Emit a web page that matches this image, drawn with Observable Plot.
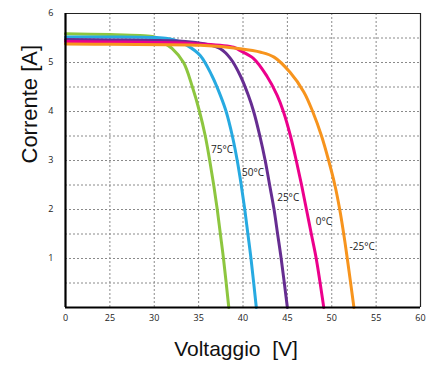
<!DOCTYPE html>
<html><head><meta charset="utf-8">
<script src="https://cdn.jsdelivr.net/npm/d3@7"></script>
<script src="https://cdn.jsdelivr.net/npm/@observablehq/plot@0.6"></script>
<style>
body{margin:0;background:#fff;}
svg text{white-space:pre;}
</style></head><body><div id="chart"></div>
<script>
// Tick labels (the x axis is broken: 0, then 25..60 in steps of 5, equally spaced)
const xTickLabels = [0, 25, 30, 35, 40, 45, 50, 55, 60];
const yTickValues = [1, 2, 3, 4, 5, 6];
const yGridValues = [0.5, 1, 1.5, 2, 2.5, 3, 3.5, 4, 4.5, 5, 5.5];

const seriesNames = ["75°C", "50°C", "25°C", "0°C", "-25°C"];
const seriesColors = ["#8dc63f", "#27aae1", "#662d91", "#ec008c", "#f7941d"];

// Voltage [V] / Current [A]
const volts75 = [0, 25, 28.4, 30, 31.5, 32.0, 33.3, 34.3, 35.1, 35.75, 36.25, 36.7, 37.1, 37.45, 37.8, 38.4];
const amps75  = [5.585, 5.57, 5.55, 5.52, 5.35, 5.29, 5.0, 4.5, 4.0, 3.5, 3.0, 2.5, 2.0, 1.5, 1.0, 0];

const volts50 = [0, 25, 30, 31.5, 32.6, 33.7, 35.2, 36.5, 37.45, 38.1, 38.8, 39.35, 39.8, 40.2, 40.55, 40.9, 41.5];
const amps50  = [5.52, 5.52, 5.51, 5.49, 5.44, 5.35, 5.14, 4.73, 4.33, 4.0, 3.5, 3.0, 2.5, 2.0, 1.5, 1.0, 0];

const volts25 = [0, 25, 30, 34.1, 36.0, 37.45, 38.6, 39.7, 40.6, 41.2, 41.9, 42.5, 43.0, 43.5, 43.9, 44.3, 45.0];
const amps25  = [5.47, 5.46, 5.45, 5.42, 5.37, 5.28, 5.08, 4.73, 4.33, 4.0, 3.5, 3.0, 2.5, 2.0, 1.5, 1.0, 0];

const volts0 = [0, 25, 30, 35, 38.95, 39.7, 41.2, 42.7, 43.85, 44.55, 45.35, 46.0, 46.6, 47.15, 47.7, 48.25, 49.1];
const amps0  = [5.43, 5.42, 5.41, 5.38, 5.31, 5.24, 5.08, 4.72, 4.33, 4.0, 3.5, 3.0, 2.5, 2.0, 1.5, 1.0, 0];

const voltsM25 = [0, 25, 35.2, 39.7, 42.0, 43.5, 45.3, 46.85, 47.85, 48.85, 49.65, 50.35, 50.9, 51.35, 51.75, 52.5];
const ampsM25  = [5.38, 5.37, 5.35, 5.28, 5.21, 5.11, 4.80, 4.4, 4.0, 3.5, 3.0, 2.5, 2.0, 1.5, 1.0, 0];

// Curve labels (anchor at left / vertical centre)
const labelVolts = [36.4, 39.9, 43.85, 48.2, 52.0];
const labelAmps  = [3.22, 2.74, 2.23, 1.74, 1.24];

// Position along the broken axis: 0..25 spans one interval, then 5 V per interval
const vx = v => v <= 25 ? v / 25 : 1 + (v - 25) / 5;

const seriesV = [volts75, volts50, volts25, volts0, voltsM25];
const seriesI = [amps75, amps50, amps25, amps0, ampsM25];
const rows = seriesNames.flatMap((s, k) => seriesV[k].map((v, j) => ({s, v, i: seriesI[k][j]})));
const labels = seriesNames.map((s, k) => ({s, v: labelVolts[k], i: labelAmps[k]}));

const xTicks = xTickLabels.map(vx);
const fontTicks = "'Open Sans', sans-serif";
const fontTitles = "'Liberation Sans', Arial, sans-serif";

const chart = Plot.plot({
  width: 438,
  height: 368,
  marginLeft: 65,
  marginRight: 18,
  marginTop: 13,
  marginBottom: 61,
  style: {fontFamily: fontTicks, background: "#fff", overflow: "visible"},
  x: {domain: [0, 8]},
  y: {domain: [0, 6]},
  color: {domain: seriesNames, range: seriesColors},
  marks: [
    Plot.gridX(xTicks.slice(1, -1), {stroke: "#8a8a8a", strokeOpacity: 1, strokeDasharray: "2,2", strokeWidth: 1}),
    Plot.gridY(yGridValues, {stroke: "#8a8a8a", strokeOpacity: 1, strokeDasharray: "2,2", strokeWidth: 1}),
    Plot.line(rows, {x: d => vx(d.v), y: "i", z: "s", stroke: "s", strokeWidth: 3, curve: "catmull-rom"}),
    Plot.text(labels, {x: d => vx(d.v), y: "i", text: "s", textAnchor: "start", fontSize: 10, fill: "#222", fontFamily: fontTicks}),
    Plot.ruleX([8], {stroke: "#222", strokeWidth: 1.2}),
    Plot.ruleY([6], {stroke: "#222", strokeWidth: 1.2}),
    Plot.ruleX([0], {stroke: "#000", strokeWidth: 2.2}),
    Plot.ruleY([0], {stroke: "#000", strokeWidth: 2.2}),
    Plot.axisX(xTicks, {tickSize: 0, tickPadding: 7, fontSize: 9, tickFormat: d => String(xTickLabels[Math.round(d)]), label: null, fill: "#222"}),
    Plot.axisY(yTickValues, {tickSize: 0, tickPadding: 12, fontSize: 9, label: null, fill: "#222"}),
    Plot.text(["Voltaggio  [V]"], {frameAnchor: "bottom", dx: -7, dy: 48, fontSize: 21, fontFamily: fontTitles, fill: "#111"}),
    Plot.text(["Corrente [A]"], {frameAnchor: "left", rotate: -90, dx: -36, dy: 3, fontSize: 22, fontFamily: fontTitles, fill: "#111"})
  ]
});
document.getElementById("chart").appendChild(chart);
</script>
</body></html>
